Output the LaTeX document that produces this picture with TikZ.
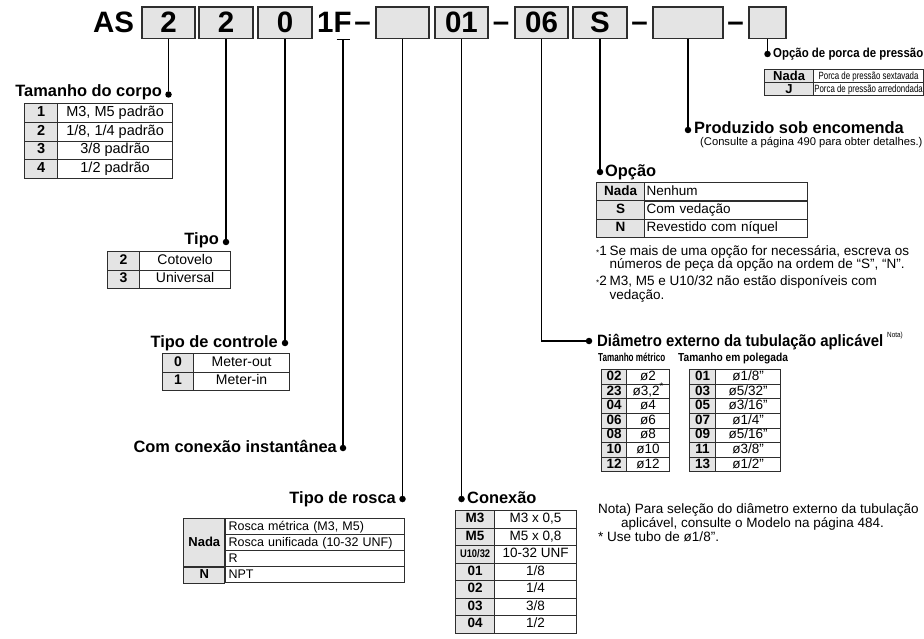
\documentclass[tikz,border=0pt]{standalone}
\usepackage{fontspec}
\setmainfont{Liberation Sans}
\usepackage{graphicx}
\usetikzlibrary{matrix,positioning}

\definecolor{keygray}{HTML}{E4E4E4}
\definecolor{linegray}{HTML}{2E2E2E}

\newcommand{\fsz}[1]{\fontsize{#1}{#1}\selectfont}
\newcommand{\cond}[2]{\scalebox{#1}[1]{#2}}

\tikzset{
  partbox/.style={draw=linegray, line width=1.1pt, fill=keygray, minimum height=31.5, inner sep=0,
    text height=21, text depth=1.5, font=\fsz{29.5}\bfseries},
  bigchar/.style={inner sep=0, font=\fsz{29.5}\bfseries},
  pin/.style={circle, fill=black, inner sep=0, minimum size=6.5},
  leader/.style={line width=1.3pt},
  title/.style={inner sep=0, font=\fsz{16.4}\bfseries},
  remark/.style={inner sep=0, font=\fsz{13.5}},
  cell/.style={draw=linegray, line width=0.8pt, inner sep=0, text height=10, text depth=3},
  keycell/.style={cell, fill=keygray, font=\fsz{14}\bfseries},
  chart/.style={matrix of nodes, inner sep=0, column sep=-0.8pt, row sep=-0.8pt,
    nodes={cell, anchor=center}},
}

\begin{document}
\begin{tikzpicture}[x=1pt, y=-1pt]
\useasboundingbox (0,0) rectangle (924,639);

% part number
\node[bigchar, anchor=base west] (as) at (93,32.5) {AS};
\node[partbox, minimum width=53] (b1) at (168.5,22.75) {2};
\node[partbox, minimum width=54] (b2) at (226,22.75) {2};
\node[partbox, minimum width=54] (b3) at (285,22.75) {0};
\node[bigchar, anchor=base west] (onef) at (317,32.5) {1F};
\node[bigchar, anchor=base] (dash1) at (362.5,31.5) {–};
\node[partbox, minimum width=53] (b4) at (402.5,22.75) {};
\node[partbox, minimum width=53] (b5) at (461.5,22.75) {01};
\node[bigchar, anchor=base] (dash2) at (501,31.5) {–};
\node[partbox, minimum width=53] (b6) at (541.5,22.75) {06};
\node[partbox, minimum width=54] (b7) at (600,22.75) {S};
\node[bigchar, anchor=base] (dash3) at (639.5,31.5) {–};
\node[partbox, minimum width=70] (b8) at (688,22.75) {};
\node[bigchar, anchor=base] (dash4) at (735.5,31.5) {–};
\node[partbox, minimum width=37] (b9) at (767.5,22.75) {};
\coordinate (fcap) at (343,39.5);

% pins
\node[pin] (dcorpo) at (b1.south |- 0,94.5) {};
\node[pin] (dtipo) at (b2.south |- 0,242) {};
\node[pin] (dctrl) at (b3.south |- 0,343) {};
\node[pin] (dinst) at (fcap |- 0,448) {};
\node[pin] (drosca) at (b4.south |- 0,499) {};
\node[pin] (dconex) at (b5.south |- 0,499) {};
\node[pin] (ddiam) at (589,341) {};
\node[pin] (dopcao) at (b7.south |- 0,172) {};
\node[pin] (dprod) at (b8.south |- 0,130) {};
\node[pin] (dporca) at (b9.south |- 0,54) {};

\draw[leader] (b1.south) -- (dcorpo);
\draw[leader] (b2.south) -- (dtipo);
\draw[leader] (b3.south) -- (dctrl);
\draw[leader] ([xshift=-6.5]fcap) -- ([xshift=6.5]fcap);
\draw[leader] (fcap) -- (dinst);
\draw[leader] (b4.south) -- (drosca);
\draw[leader] (b5.south) -- (dconex);
\draw[leader] (b6.south) |- (ddiam);
\draw[leader] (b7.south) -- (dopcao);
\draw[leader] (b8.south) -- (dprod);
\draw[leader] (b9.south) -- (dporca);

% Tamanho do corpo
\node[title, anchor=base east] (hcorpo) at (162,97) {Tamanho do corpo};
\matrix[chart, anchor=north west,
  nodes={minimum height=18.7, font=\fsz{14.5}},
  column 1/.style={nodes={keycell, minimum width=33, font=\fsz{14.5}\bfseries}},
  column 2/.style={nodes={minimum width=115}}] (corpo) at (24,103) {
  1 & M3, M5 padrão \\
  2 & 1/8, 1/4 padrão \\
  3 & 3/8 padrão \\
  4 & 1/2 padrão \\
};

% Tipo
\node[title, anchor=base east] (htipo) at (219,245) {Tipo};
\matrix[chart, anchor=north west,
  nodes={minimum height=18.5, font=\fsz{14}},
  column 1/.style={nodes={keycell, minimum width=32}},
  column 2/.style={nodes={minimum width=91}}] (tipo) at (107,251) {
  2 & Cotovelo \\
  3 & Universal \\
};

% Tipo de controle
\node[title, anchor=base east] (hctrl) at (278,347) {Tipo de controle};
\matrix[chart, anchor=north west,
  nodes={minimum height=18.5, font=\fsz{14}},
  column 1/.style={nodes={keycell, minimum width=31}},
  column 2/.style={nodes={minimum width=96}}] (ctrl) at (162,353) {
  0 & Meter-out \\
  1 & Meter-in \\
};

\node[title, anchor=base east] (hinst) at (337,452) {Com conexão instantânea};

% Tipo de rosca
\node[title, anchor=base east] (hrosca) at (396,503) {Tipo de rosca};
\matrix[chart, anchor=north west,
  nodes={minimum height=16, text width=173, align=left, inner xsep=3, font=\fsz{12.5}}] (rosca) at (225,518) {
  Rosca métrica (M3, M5) \\
  Rosca unificada (10-32 UNF) \\
  R \\
  NPT \\
};
\node[keycell, minimum width=41, minimum height=48, font=\fsz{13}\bfseries, anchor=north east] (rnada) at (rosca-1-1.north west) {Nada};
\node[keycell, minimum width=41, minimum height=16, font=\fsz{13}\bfseries, below=0 of rnada] (rn) {N};

% Conexao
\node[title, anchor=base west] (hconex) at (467,503) {Conexão};
\matrix[chart, anchor=north west,
  nodes={minimum height=17.5, font=\fsz{13.5}},
  column 1/.style={nodes={keycell, minimum width=39, font=\fsz{13.5}\bfseries}},
  column 2/.style={nodes={minimum width=82}}] (conex) at (455,510) {
  M3 & M3 x 0,5 \\
  M5 & M5 x 0,8 \\
  |[font=\fsz{11}\bfseries]| \cond{0.85}{U10/32} & 10-32 UNF \\
  01 & 1/8 \\
  02 & 1/4 \\
  03 & 3/8 \\
  04 & 1/2 \\
};

% Opcao
\node[title, anchor=base west] (hopcao) at (605,177) {Opção};
\matrix[chart, anchor=north west,
  nodes={minimum height=18.3, font=\fsz{13.5}},
  column 1/.style={nodes={keycell, minimum width=48, font=\fsz{13.5}\bfseries}},
  column 2/.style={nodes={text width=159, align=left, inner xsep=2, minimum width=163}}] (opcao) at (596,182) {
  Nada & Nenhum \\
  S & Com vedação \\
  N & Revestido com níquel \\
};
\node[remark, anchor=base west] (n1) at (596,255) {{\fsz{8}*}1};
\node[remark, anchor=base west] (n1a) at (609.5,255) {Se mais de uma opção for necessária, escreva os};
\node[remark, anchor=base west] (n1b) at (609.5,269) {números de peça da opção na ordem de “S”, “N”.};
\node[remark, anchor=base west] (n2) at (596,285) {{\fsz{8}*}2};
\node[remark, anchor=base west] (n2a) at (609.5,285) {M3, M5 e U10/32 não estão disponíveis com};
\node[remark, anchor=base west] (n2b) at (609.5,299) {vedação.};

% Produzido sob encomenda
\node[title, anchor=base west] (hprod) at (694,134) {Produzido sob encomenda};
\node[inner sep=0, font=\fsz{11.2}, anchor=base west] (sprod) at (700,146) {(Consulte a página 490 para obter detalhes.)};

% Opcao de porca
\node[inner sep=0, font=\fsz{13}\bfseries, anchor=base west] (hporca) at (773,58) {\cond{0.88}{Opção de porca de pressão}};
\matrix[chart, anchor=north west,
  nodes={minimum height=13, text height=8, text depth=2, font=\fsz{10.5}},
  column 1/.style={nodes={keycell, minimum width=49, font=\fsz{13}\bfseries, text height=9.5, text depth=0}},
  column 2/.style={nodes={minimum width=110}}] (porca) at (764,69) {
  Nada & \cond{0.75}{Porca de pressão sextavada} \\
  J & \cond{0.75}{Porca de pressão arredondada} \\
};

% Diametro externo
\node[title, anchor=base west] (hdiam) at (597,346) {\cond{0.91}{Diâmetro externo da tubulação aplicável}};
\node[inner sep=0, font=\fsz{7.5}, anchor=base west] (nota) at (887,337) {\cond{0.85}{Nota)}};
\node[inner sep=0, font=\fsz{11.6}\bfseries, anchor=base west] (tmet) at (598,361) {\cond{0.7}{Tamanho métrico}};
\node[inner sep=0, font=\fsz{11.6}\bfseries, anchor=base west] (tpol) at (678,361) {\cond{0.88}{Tamanho em polegada}};
\matrix[chart, anchor=north west,
  nodes={minimum height=14.6, text height=9.5, text depth=2.5, font=\fsz{13.5}},
  column 1/.style={nodes={keycell, minimum width=25, font=\fsz{13.5}\bfseries, text height=9.5, text depth=2.5}},
  column 2/.style={nodes={minimum width=43}}] (metric) at (601,369) {
  02 & ø2 \\
  23 & ø3,2\textsuperscript{*} \\
  04 & ø4 \\
  06 & ø6 \\
  08 & ø8 \\
  10 & ø10 \\
  12 & ø12 \\
};
\matrix[chart, anchor=north west,
  nodes={minimum height=14.6, text height=9.5, text depth=2.5, font=\fsz{13.5}},
  column 1/.style={nodes={keycell, minimum width=26, font=\fsz{13.5}\bfseries, text height=9.5, text depth=2.5}},
  column 2/.style={nodes={minimum width=65}}] (inch) at (689,369) {
  01 & ø1/8" \\
  03 & ø5/32" \\
  05 & ø3/16" \\
  07 & ø1/4" \\
  09 & ø5/16" \\
  11 & ø3/8" \\
  13 & ø1/2" \\
};
\node[remark, anchor=base west] (nd1) at (598,513) {Nota) Para seleção do diâmetro externo da tubulação};
\node[remark, anchor=base west] (nd2) at (621,527) {aplicável, consulte o Modelo na página 484.};
\node[remark, anchor=base west] (nd3) at (598,541) {* Use tubo de ø1/8".};
\end{tikzpicture}
\end{document}
